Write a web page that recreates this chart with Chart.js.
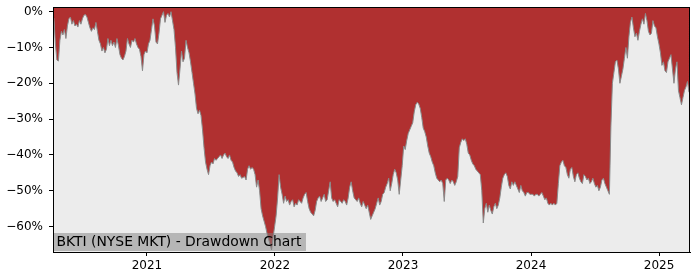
<!DOCTYPE html>
<html>
<head>
<meta charset="utf-8">
<script src="https://cdn.jsdelivr.net/npm/chart.js@4.4.1/dist/chart.umd.min.js"></script>
<style>
  body { margin: 0; background: #fff; }
  #wrap { width: 700px; height: 280px; }
</style>
</head>
<body>
<div id="wrap"><canvas id="drawdown" width="700" height="280"></canvas></div>
<script>
// drawdown in %, roughly every 4 days
var drawdown = [
  -1.8, -9, -13.5, -13.8, -8, -5.5, -6.5, -5, -7.5, -4, -2, -1.5, -3.5, -2.5, -4, -3.5, -4.3, -2.5, -3.5, -2,
  -1, -0.8, -1.5, -3, -4.5, -5.5, -4.5, -5, -3, -5.5, -8, -9, -11, -10, -11.5, -10.5, -7.5, -9.5, -8, -9.5,
  -8.5, -10, -7.5, -9.5, -12, -13, -13.5, -12.5, -11, -7.5, -9, -10, -8, -8.5, -7.5, -9, -10, -10.5, -12.5, -16.5,
  -12, -11, -11.5, -9, -8, -5, -2, -4, -8.5, -9, -6, -2, -1, 0, -3, -1, -0.5, -1.5, 0, -2.5,
  -5, -10, -17, -20.5, -16, -11, -14, -13, -8, -10, -11.5, -14, -17, -20, -23, -27, -28.5, -27.5, -29, -33,
  -38, -42, -44, -45.5, -43, -42, -42.5, -41, -41.5, -41, -40.5, -40, -41, -40, -39.5, -40.5, -41, -40, -41.5, -42,
  -43.5, -44.5, -45, -46, -45.5, -46.5, -46.3, -46, -47, -44, -43, -44, -43.5, -44, -45.5, -49, -47, -50, -55, -57,
  -58.5, -60, -62, -63.5, -65, -66.5, -63, -60, -57, -52, -45.5,
  -49, -51, -53.5, -51.5, -53, -52.5, -54, -53, -52.5, -54.5, -53.5, -54, -52.5, -53, -53.5, -52, -51, -50.5, -53, -55,
  -56, -56.5, -57, -55.5, -53, -52, -51.5, -53, -52, -51, -53, -52.5, -50, -47.5, -52, -53, -52.5, -53.5, -54.5, -52.5,
  -53, -53.5, -52.5, -53, -54, -52, -49, -47.5, -50, -52, -52.5, -53, -52, -53.5, -54.5, -53, -54, -55, -54, -56,
  -58, -57, -56, -55, -53.5, -52, -54, -53, -51, -50.5, -49, -48, -46.5, -50, -48, -45.5, -44, -45, -47, -51,
  -47, -43, -37.5, -38.5, -36, -34, -33, -32, -31, -28, -26, -25.3, -25.8, -27, -29.5, -32.5, -33.5, -35, -37.5, -39.5,
  -40.5, -42, -43, -45, -46.5, -47, -47.5, -47, -48, -53, -47, -46.5, -47, -48, -47, -47.5, -48.5, -47.5, -46, -38,
  -36.5, -35.5, -36, -35.5, -37, -39.5, -40, -41.5, -42.5, -43, -44, -44.5, -45, -45.5, -50, -59, -55, -53.5, -56, -54,
  -55.5, -56.5, -54.5, -53.5, -55, -54, -52, -49, -46.5, -45.5, -45, -46, -48.5, -49.5, -47.5, -48.5, -47.5, -48.5, -49.5, -50.5,
  -48.5, -50, -50.5, -51.5, -50.5, -50.5, -51, -51, -51, -51.5, -51, -51, -51.5, -51, -50.5, -51.5, -52.5, -52, -53.5, -54,
  -53.5, -54, -53.5, -54, -53.5, -48, -43, -42, -41.5, -43, -43.5, -45.5, -46.5, -44, -43.5, -46, -47.5, -45.5, -45, -46.5,
  -47.5, -48, -45.5, -46, -47, -46.5, -48, -47.5, -46.5, -48, -49, -48.5, -50, -49, -47, -46.5, -48, -49, -50, -51,
  -32, -20, -17, -14, -13.5, -16, -20, -18, -16, -13, -10, -13, -7, -3, -1.5, -4.5, -7, -6, -8, -5.5,
  -3.5, -2, -3.5, -0.5, -2.5, -5.5, -6.5, -6, -2.5, -4, -4.5, -7, -9, -11.5, -15, -14, -16.5, -17, -14, -13,
  -12, -16, -20, -16, -14, -22, -24, -26, -24, -22, -21, -19.5, -22.5
];

// first and last trading day as decimal years (approx 2020-04-09 .. 2025-03-27)
var firstDay = 2020.273;
var lastDay = 2025.234;
var dates = drawdown.map(function (v, i) {
  return firstDay + i * (lastDay - firstDay) / (drawdown.length - 1);
});

var yearTicks = [2021, 2022, 2023, 2024, 2025];
var pctTicks = [0, -10, -20, -30, -40, -50, -60];
var chartLabel = 'BKTI (NYSE MKT) - Drawdown Chart';

var points = dates.map(function (d, i) { return { x: d, y: drawdown[i] }; });

var plotFrame = {
  id: 'plotFrame',
  beforeDatasetsDraw: function (chart) {
    var a = chart.chartArea, ctx = chart.ctx;
    ctx.save();
    ctx.fillStyle = '#ececec';
    ctx.fillRect(a.left, a.top, a.right - a.left, a.bottom - a.top);
    ctx.restore();
  },
  afterDraw: function (chart) {
    var a = chart.chartArea, ctx = chart.ctx;
    ctx.save();
    // label box in lower left corner
    ctx.font = '13.9px "DejaVu Sans"';
    var w = ctx.measureText(chartLabel).width;
    ctx.fillStyle = 'rgba(128,128,128,0.5)';
    ctx.fillRect(a.left + 1, a.bottom - 19, w + 7, 18);
    ctx.fillStyle = '#000';
    ctx.textBaseline = 'middle';
    ctx.fillText(chartLabel, a.left + 3.5, a.bottom - 10);
    // frame
    ctx.strokeStyle = '#000';
    ctx.lineWidth = 1;
    ctx.strokeRect(a.left + 0.5, a.top + 0.5, a.right - a.left - 1, a.bottom - a.top);
    ctx.restore();
  }
};

var ddChart = new Chart(document.getElementById('drawdown'), {
  type: 'line',
  data: {
    datasets: [
      {
        label: 'Drawdown',
        data: points,
        borderColor: '#8a8a8a',
        borderWidth: 1,
        backgroundColor: '#b03030',
        fill: 'end',
        pointRadius: 0,
        tension: 0
      }
    ]
  },
  options: {
    responsive: false,
    animation: false,
    layout: { padding: { top: 7, right: 10, left: 0, bottom: 0 } },
    plugins: {
      legend: { display: false },
      tooltip: { enabled: false }
    },
    scales: {
      x: {
        type: 'linear',
        min: 2020.266,
        max: 2025.242,
        afterBuildTicks: function (s) { s.ticks = yearTicks.map(function (v) { return { value: v }; }); },
        afterFit: function (s) { s.height = 28; s.paddingLeft = 0; s.paddingRight = 0; },
        ticks: {
          callback: function (v) { return String(v); },
          color: '#000',
          font: { family: 'DejaVu Sans', size: 12 },
          padding: 3,
          maxRotation: 0
        },
        grid: { display: true, drawOnChartArea: false, drawTicks: true, tickLength: 4, color: '#000' },
        border: { display: true, color: '#000' }
      },
      y: {
        min: -67.1,
        max: 1.3,
        afterBuildTicks: function (s) { s.ticks = pctTicks.map(function (v) { return { value: v }; }); },
        afterFit: function (s) { s.width = 53; s.paddingTop = 0; s.paddingBottom = 0; },
        ticks: {
          callback: function (v) { return v === 0 ? '0%' : '\u2212' + Math.abs(v) + '%'; },
          color: '#000',
          font: { family: 'DejaVu Sans', size: 12 },
          padding: 6
        },
        grid: { display: true, drawOnChartArea: false, drawTicks: true, tickLength: 4, color: '#000' },
        border: { display: true, color: '#000' }
      }
    }
  },
  plugins: [plotFrame]
});
</script>
</body>
</html>
